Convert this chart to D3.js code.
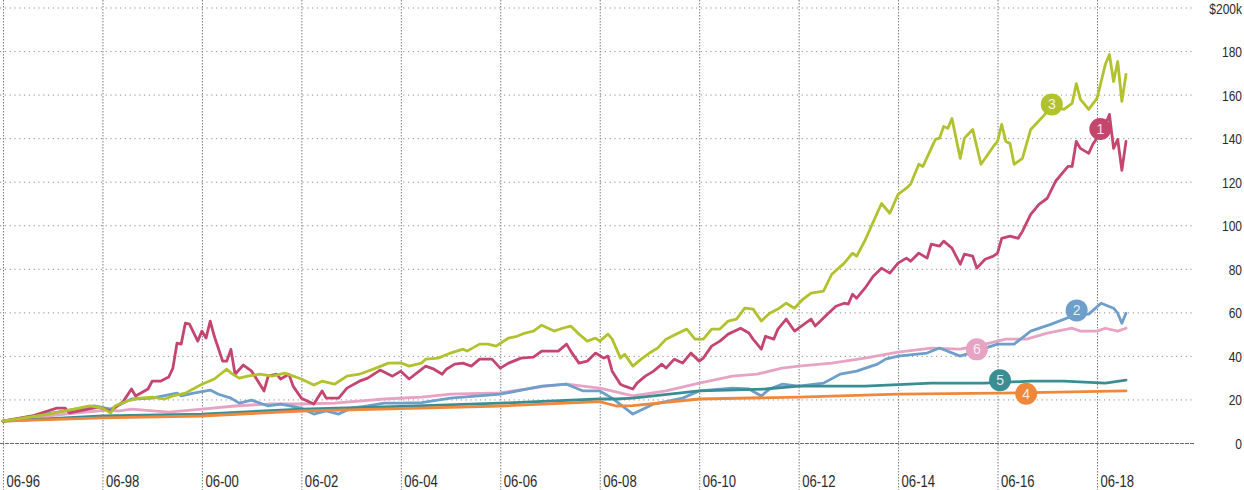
<!DOCTYPE html>
<html>
<head>
<meta charset="utf-8">
<script src="https://cdn.jsdelivr.net/npm/d3@7/dist/d3.min.js"></script>
<style>
  html, body { margin: 0; padding: 0; background: #fff; }
  svg { display: block; }
  .lbl { font-family: "Liberation Sans", Arial, sans-serif; }
</style>
</head>
<body>
<script>
// Growth of $10k, June 1996 onward. Each point: [months since 06-1996, value in $k]
const xTickMonths = [0, 24, 48, 72, 96, 120, 144, 168, 192, 216, 240, 264];
const xTickLabels = ["06-96","06-98","06-00","06-02","06-04","06-06","06-08","06-10","06-12","06-14","06-16","06-18"];
const yTickValues = [0, 20, 40, 60, 80, 100, 120, 140, 160, 180, 200];
const yTickLabels = ["0","20","40","60","80","100","120","140","160","180","$200k"];

const series1 = [[0,10],[7,12.4],[13,16],[15,16],[16,13.8],[23,16.5],[26,14.7],[29,19],[31,24.8],[32,21.6],[35,24.8],[36,28.4],[38,28.4],[40,30.3],[41,34.4],[42,45.9],[43,45.4],[44,55],[45,54.6],[47,46.8],[48,51.4],[49,48.2],[50,56],[51,49],[53,37.6],[54,37.6],[55,43],[56,31.6],[58,35.8],[60,33],[63,23.9],[64,30.7],[66,31.6],[67,29.4],[69,31.6],[70,26.1],[72,20.6],[75,17.9],[77,23.9],[78,20.6],[81,20.6],[83,25.2],[86,28.4],[88,29.8],[91,33.5],[94,30.7],[96,33],[98,29.4],[102,35.3],[104,33.9],[106,31.6],[107,33.9],[109,36.2],[111,36.7],[113,35.3],[115,38.5],[118,38.5],[120,34.4],[122,36.7],[125,39],[128,39.4],[130,42.2],[134,42.2],[136,45.4],[137,42.2],[139,36.7],[141,37.6],[143,41.3],[145,39],[146,39.9],[147,33],[149,27],[150,26.1],[152,24.8],[153,27.5],[155,30.7],[157,33],[159,36.2],[160,34.4],[162,38.5],[164,36.7],[166,41.3],[168,37.6],[169,39],[171,44.5],[173,46.8],[175,50],[178,52.7],[180,50.5],[181,47.7],[183,43.1],[184,49],[186,47.7],[187,52.3],[189,56.9],[191,51.4],[192,52.7],[195,56.9],[196,53.7],[199,59.2],[201,62.8],[203,64.2],[204,63.8],[205,68.3],[206,66.5],[208,71.1],[210,76.6],[212,80.3],[214,78],[216,82.6],[218,84.9],[219,83.5],[221,87.2],[223,84.9],[224,91.3],[226,90.4],[227,92.7],[229,89.5],[231,82.1],[232,86.7],[234,85.8],[235,80.3],[237,84.4],[239,85.8],[240,87.2],[241,94],[243,95],[245,94],[246,97.2],[248,105],[250,109.6],[252,112.4],[254,120.2],[257,127],[258,127],[259,138.5],[260,135.3],[262,133],[263,137.2],[264,140],[266,146],[267,150.9],[268,135.3],[269,139.4],[270,125.2],[271,138.5]];

const series2 = [[0,10],[15,14.7],[22,17],[26,15.6],[31,20.2],[36,20.6],[42,22.9],[43,21.6],[46,22.9],[50,24.3],[52,22.4],[55,20.6],[57,18.3],[60,19.7],[64,17],[67,17.9],[72,16],[75,13.3],[78,14.7],[81,13.3],[84,16],[88,17],[92,18.3],[96,18.3],[101,18.5],[108,20.6],[120,22.4],[130,26.1],[136,27],[140,23.9],[144,23.9],[147,20.6],[152,13.3],[157,17.9],[164,20.6],[168,23.9],[176,25.2],[180,24.8],[183,21.6],[185,24.8],[188,27],[192,26.1],[198,27.5],[202,31.6],[206,33],[211,36.2],[213,38.5],[216,39.9],[223,41.3],[226,43.6],[231,39.9],[237,43.6],[240,45.4],[244,45.4],[248,51.4],[253,54.6],[259,59],[262,59.2],[265,64.2],[268,61.9],[269,59.6],[270,55],[271,59.6]];

const series3 = [[0,10],[11,13.3],[15,14.7],[21,17],[24,16],[26,13.8],[27,17],[30,19.3],[33,20.6],[36,21.1],[39,20.2],[41,21.6],[44,22.9],[48,27],[51,29.4],[54,33.9],[55,32.1],[57,29.8],[59,30.7],[62,31.6],[65,30.7],[68,32.1],[72,29.4],[75,26.6],[77,28.4],[80,27],[83,30.7],[86,31.6],[90,34.4],[93,36.7],[96,36.8],[98,35.3],[101,36.7],[102,38.5],[105,39],[108,41.3],[111,43.1],[112,42.2],[115,45.4],[117,45.4],[119,44.5],[122,48.2],[124,49],[126,50.5],[128,51.4],[130,54.1],[133,51.4],[135,52.7],[137,53.7],[139,50],[141,46.8],[143,48.2],[144,46.8],[146,50],[147,47.7],[149,39],[150,40.8],[152,35.3],[154,38.5],[156,41.3],[158,43.6],[160,47.7],[163,50.5],[165,52.3],[167,47.7],[169,47.7],[171,52.3],[173,52.3],[175,56],[177,56.9],[179,61.9],[181,61.5],[183,56],[185,59.6],[187,61.5],[189,64.2],[191,61.9],[193,66],[195,68.8],[198,69.7],[200,77.5],[203,82.6],[205,87.2],[206,85.8],[208,93],[212,110],[214,105.5],[216,114.2],[218,117],[219,118.8],[221,128],[222,127],[225,139.4],[226,140],[227,145.4],[228,144.5],[229,149],[231,130.7],[232,140],[234,144],[236,128],[239,136.2],[240,138.5],[241,146.3],[242,138.5],[243,137.6],[244,128],[246,130.7],[248,144],[251,150],[253,154.6],[256,153.2],[258,156],[259,165],[260,157.8],[262,153.2],[264,158.3],[266,173.8],[267,178.4],[268,166],[269,175.2],[270,156.9],[271,169.3]];

const series4 = [[0,10],[24,11.5],[48,12.4],[72,14.7],[96,15.8],[120,17],[144,19],[148,17],[152,17.2],[168,20.2],[192,21.1],[216,22.4],[240,22.9],[271,23.9]];

const series5 = [[0,10],[24,12.4],[48,13.3],[72,15.6],[96,16.8],[120,18.3],[144,20.2],[148,20.2],[152,20.6],[168,23.9],[184,24.8],[192,26.1],[208,26.1],[224,27.5],[237,27.5],[248,28.4],[256,28.4],[266,27.5],[271,28.9]];

const series6 = [[0,10],[15,13.3],[25,15.1],[28,14.7],[31,15.6],[40,14.2],[48,15.6],[56,17],[64,17.9],[72,17.9],[80,18.3],[92,20.2],[101,21.1],[108,22.4],[120,23],[131,26.1],[136,27],[144,25.2],[152,21.6],[160,23.9],[168,27.5],[176,30.7],[182,31.6],[188,34.4],[192,35.3],[200,36.7],[208,39],[216,41.7],[224,43.6],[231,43.1],[237,45.4],[242,47.7],[247,47.7],[252,50.5],[258,52.7],[260,51.4],[264,51.4],[266,52.7],[269,51.4],[271,52.7]];

// Numbered badges placed on each line: [id, month, value]
const badges = [["6",235,43],["5",240.6,28.8],["4",246.9,22.6],["3",253.1,155.5],["2",259.1,60.9],["1",264.8,144.2]];

const colors = { "1": "#c4466f", "2": "#6d9fca", "3": "#b2c22f", "4": "#f0883b", "5": "#3a8e93", "6": "#e6a3c3" };

const lines = [
  { id: "6", data: series6 },
  { id: "2", data: series2 },
  { id: "5", data: series5 },
  { id: "4", data: series4 },
  { id: "1", data: series1 },
  { id: "3", data: series3 }
];

const W = 1244, H = 490;
// horizontal squeeze giving the condensed look of the label face
const NARROW_X = 0.77;
const NARROW_Y = 0.8;
const svg = d3.select("body").append("svg").attr("width", W).attr("height", H);

const x = d3.scaleLinear().domain([0, 264]).range([3, 1097]);
const y = d3.scaleLinear().domain([0, 200]).range([443, 7.5]);

// Horizontal gridlines with labels at the right edge
const yAxis = d3.axisRight(y)
  .tickValues(yTickValues)
  .tickFormat((d, i) => yTickLabels[i])
  .tickSize(1195)
  .tickPadding(0);
const gy = svg.append("g").call(yAxis);
gy.select(".domain").remove();
gy.selectAll(".tick line")
  .attr("stroke-width", 1)
  .attr("stroke-dasharray", d => d === 0 ? "4,1" : "1.2,3.6")
  .attr("stroke", d => d === 0 ? "#6a6a6a" : "#8f8f8f");
gy.selectAll(".tick text")
  .attr("class", "lbl")
  .attr("transform", `scale(${NARROW_Y},1)`)
  .attr("x", 1242 / NARROW_Y)
  .attr("y", d => d === 200 ? 1 : 0)
  .attr("dy", "0.36em")
  .attr("text-anchor", "end")
  .attr("fill", "#2b2b2b")
  .style("font-size", "15px");

// Vertical gridlines with date labels along the bottom
const xAxis = d3.axisBottom(x)
  .tickValues(xTickMonths)
  .tickFormat((d, i) => xTickLabels[i])
  .tickSize(H)
  .tickPadding(0);
const gx = svg.append("g").call(xAxis);
gx.select(".domain").remove();
gx.selectAll(".tick line")
  .attr("stroke", "#7c7c7c")
  .attr("stroke-width", 1)
  .attr("stroke-dasharray", "1.5,1.5");
gx.selectAll(".tick text")
  .attr("class", "lbl")
  .attr("transform", `scale(${NARROW_X},1)`)
  .attr("x", 3 / NARROW_X)
  .attr("y", 487)
  .attr("dy", 0)
  .attr("text-anchor", "start")
  .attr("fill", "#2b2b2b")
  .style("font-size", "17px");

// Series lines
const line = d3.line().x(d => x(d[0])).y(d => y(d[1])).curve(d3.curveLinear);
svg.append("g").selectAll("path")
  .data(lines)
  .join("path")
  .attr("d", d => line(d.data))
  .attr("fill", "none")
  .attr("stroke", d => colors[d.id])
  .attr("stroke-width", 2.8)
  .attr("stroke-linejoin", "round")
  .attr("stroke-linecap", "round");

// Badges
const b = svg.append("g").selectAll("g")
  .data(badges)
  .join("g")
  .attr("transform", d => `translate(${x(d[1])},${y(d[2])})`);
b.append("circle")
  .attr("r", 11)
  .attr("fill", d => colors[d[0]]);
b.append("text")
  .attr("class", "lbl")
  .attr("text-anchor", "middle")
  .attr("dy", "0.36em")
  .attr("fill", "#fff")
  .attr("fill-opacity", 0.85)
  .style("font-size", "14px")
  .text(d => d[0]);
</script>
</body>
</html>
